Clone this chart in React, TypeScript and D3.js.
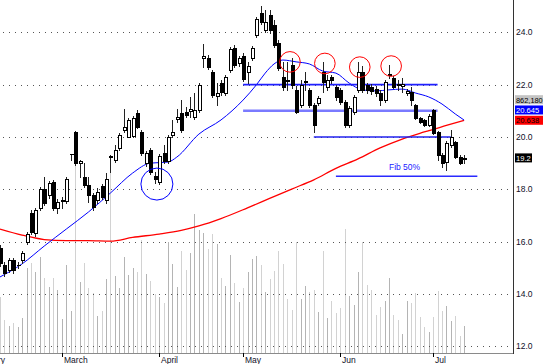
import React from 'react';
import * as d3 from 'd3';

const W = 550;
const H = 364;

// Daily candles [open, high, low, close]
const ohlc: [number, number, number, number][] = [
  [15.76, 15.87, 15.07, 15.19], [15.11, 15.23, 14.69, 14.80], [14.92, 15.38, 14.84, 15.30], [15.30, 15.38, 14.80, 14.92],
  [15.11, 15.23, 15.00, 15.12], [15.30, 15.64, 15.19, 15.57], [15.99, 16.37, 15.91, 16.29], [17.10, 17.21, 16.29, 16.37],
  [16.33, 17.29, 16.22, 17.21], [17.29, 18.09, 17.21, 18.01], [18.01, 18.47, 17.40, 17.48], [17.78, 18.32, 17.67, 18.24],
  [18.28, 18.36, 17.21, 17.29], [17.29, 17.63, 17.10, 17.52], [17.55, 17.71, 17.29, 17.59], [17.55, 18.47, 17.48, 18.39],
  [19.33, 19.35, 19.12, 19.33], [20.19, 20.23, 18.93, 19.00], [19.00, 19.12, 18.47, 19.08], [18.47, 19.00, 18.09, 18.17],
  [18.17, 18.47, 17.52, 17.78], [17.78, 17.86, 17.21, 17.33], [17.59, 18.05, 17.48, 17.90], [18.13, 18.20, 17.63, 17.71],
  [17.59, 18.62, 17.48, 18.39], [19.27, 19.31, 18.66, 19.22], [19.12, 19.69, 19.04, 19.50], [19.58, 20.15, 19.50, 20.08],
  [20.27, 21.07, 20.19, 20.38], [20.00, 20.73, 20.00, 20.65], [20.04, 20.80, 20.00, 20.73], [20.92, 21.03, 20.34, 20.38],
  [20.19, 20.27, 19.31, 19.39], [19.00, 19.46, 18.89, 19.39], [19.50, 19.58, 18.59, 18.66], [18.51, 18.66, 18.24, 18.39],
  [18.28, 19.35, 18.20, 19.27], [19.39, 19.69, 19.00, 19.08], [19.08, 20.08, 19.00, 20.00], [20.08, 20.65, 20.00, 20.19],
  [20.69, 21.07, 20.57, 20.76], [20.92, 21.41, 20.19, 20.27], [20.95, 21.15, 20.76, 20.84], [20.99, 21.53, 20.76, 21.07],
  [20.76, 21.68, 20.69, 21.03], [21.03, 22.06, 20.95, 21.99], [23.02, 23.55, 22.67, 23.09], [23.02, 23.13, 22.60, 22.67],
  [22.48, 22.56, 21.53, 21.60], [21.57, 22.06, 21.22, 21.68], [22.06, 22.18, 21.60, 21.72], [21.68, 22.37, 21.60, 22.29],
  [22.56, 23.44, 22.48, 23.36], [23.40, 23.51, 22.67, 22.75], [22.83, 23.09, 22.71, 23.02], [23.09, 23.21, 22.14, 22.22],
  [22.48, 22.87, 22.06, 22.71], [23.02, 23.48, 22.94, 23.40], [23.90, 24.58, 23.82, 24.51], [24.74, 25.00, 24.32, 24.39],
  [24.09, 24.85, 24.01, 24.39], [24.66, 24.85, 23.97, 24.09], [24.28, 24.47, 23.44, 23.51], [23.59, 23.71, 22.56, 22.64],
  [22.29, 22.87, 21.80, 21.91], [22.18, 22.87, 21.80, 22.14], [22.75, 23.02, 21.87, 21.99], [21.80, 21.95, 20.92, 20.95],
  [21.22, 22.18, 21.15, 21.99], [22.10, 22.48, 21.80, 22.12], [21.80, 21.87, 21.15, 21.22], [21.22, 21.30, 20.19, 20.46],
  [21.30, 21.57, 21.22, 21.49], [22.48, 22.87, 21.72, 22.10], [21.91, 22.37, 21.80, 22.18], [22.29, 22.37, 22.06, 22.18],
  [21.91, 21.99, 21.41, 21.53], [21.80, 21.87, 21.26, 21.34], [21.34, 21.41, 20.38, 20.46], [20.46, 21.18, 20.38, 21.11],
  [20.95, 21.60, 20.88, 21.53], [21.80, 22.87, 21.72, 22.48], [22.48, 22.71, 21.72, 21.80], [21.99, 22.06, 21.68, 21.80],
  [21.91, 22.02, 21.64, 21.76], [21.83, 21.95, 21.57, 21.68], [21.68, 21.80, 21.22, 21.41], [21.41, 22.18, 21.34, 22.10],
  [22.35, 22.75, 22.25, 22.39], [22.25, 22.33, 21.87, 21.91], [22.02, 22.18, 21.80, 22.00], [21.95, 22.25, 21.72, 22.02],
  [21.68, 21.83, 21.60, 21.76], [21.72, 21.91, 21.22, 21.41], [21.22, 21.26, 20.69, 20.73], [20.73, 20.76, 20.53, 20.57],
  [20.65, 20.69, 20.42, 20.46], [20.46, 20.88, 20.42, 20.80], [21.03, 21.07, 20.11, 20.15], [20.19, 20.23, 19.12, 19.31],
  [19.31, 19.39, 18.85, 19.00], [19.04, 19.85, 18.74, 19.77], [19.69, 20.27, 19.62, 20.00], [19.81, 19.85, 19.20, 19.22],
  [19.23, 19.31, 18.97, 19.00], [19.16, 19.31, 19.00, 19.20],
];

// Volume in thousands of shares
const volumeK: number[] = [
  1768, 1040, 862, 937, 812, 1093, 2655, 2812, 2549, 3018, 2362, 2081, 2362, 1977, 1072, 2758,
  1331, 6039, 2237, 2812, 2031, 1874, 1165, 1331, 2321, 5789, 2424, 2031, 3018, 2446, 2655, 2549,
  3539, 2477, 2259, 1843, 1768, 1581, 3477, 2790, 2081, 3205, 2602, 3124, 4352, 3852, 3749, 3258,
  3727, 3415, 2362, 2102, 3080, 2206, 1603, 2049, 2540, 2955, 3030, 2758, 1915, 2321, 2580, 3205,
  2799, 1706, 1353, 3486, 1706, 2093, 1924, 1968, 1281, 3186, 1103, 1634, 1268, 1415, 3892, 1799,
  1509, 2540, 3486, 2134, 1977, 1196, 1456, 1634, 2343, 1196, 1040, 603, 1643, 1581, 1874, 1143,
  831, 675, 1143, 1956, 1331, 1478, 1018, 1165, 550, 862.18,
];

// Short moving average (blue), read at sample bars
const maShortIdx = [0, 5, 10, 15, 20, 25, 30, 34, 38, 40, 45, 50, 55, 58, 60, 62, 64, 67, 70, 73, 76, 79, 82, 85, 88, 91, 94, 97, 100, 103, 105];
const maShortVal = [14.65, 15.15, 15.83, 16.48, 17.13, 17.86, 18.62, 19.0, 19.04, 19.23, 20.11, 20.65, 21.41, 21.99, 22.44, 22.79, 22.94, 22.87, 22.79, 22.52, 22.44, 22.06, 21.8, 21.76, 21.8, 21.83, 21.68, 21.53, 21.26, 20.88, 20.645];

// Long moving average (red)
const maLongIdx = [0, 5, 10, 15, 20, 25, 30, 36, 41, 45, 50, 56, 61, 66, 71, 76, 81, 86, 91, 96, 101, 105];
const maLongVal = [16.48, 16.25, 16.08, 16.04, 16.04, 16.02, 16.16, 16.29, 16.43, 16.6, 16.88, 17.29, 17.65, 18.01, 18.36, 18.8, 19.16, 19.58, 19.92, 20.19, 20.44, 20.638];

const priceTicks = [12, 14, 16, 18, 20, 22, 24];
const monthLabels = ['February', 'March', 'April', 'May', 'Jun', 'Jul'];
const monthStart = [-7, 14, 36, 55, 77, 98];

// Drawn support/resistance levels
const levelPrice = [22, 21, 20, 18.5];
const levelFrom = [55, 55, 71, 76];
const levelTo = [99, 99, 102, 108];
const levelColor = ['#1f1fff', '#7a7aff', '#2222ee', '#2a2aff'];
const levelWidth = [1.6, 2.4, 1.5, 1.5];

const redCircleIdx = [65.6, 73.5, 81.4, 88.5];
const redCirclePrice = [22.87, 22.81, 22.67, 22.71];
const blueCircleIdx = [35.5];
const blueCirclePrice = [18.2];

const fibText = 'Fib 50%';
const fibIdx = 88;
const fibPrice = 18.74;

const FONT = '"Liberation Sans", Arial, sans-serif';

export default function App() {
  const plotRight = 513;
  const plotBottom = 353;
  const x = d3.scaleLinear().domain([0, 116]).range([0, 512.7]);
  const y = d3.scaleLinear().domain([12, 24]).range([346.3, 32.3]);
  const yv = d3.scaleLinear().domain([0, 10000]).range([353.3, 33.2]);

  const px = (i: number) => Math.round(x(i));

  const line = d3
    .line<[number, number]>()
    .x((d) => x(d[0]))
    .y((d) => y(d[1]))
    .curve(d3.curveMonotoneX);

  const shortPath = line(maShortIdx.map((d, k) => [d, maShortVal[k]]) as [number, number][]) || '';
  const longPath = line(maLongIdx.map((d, k) => [d, maLongVal[k]]) as [number, number][]) || '';

  const lastI = ohlc.length - 1;
  const lastClose = ohlc[lastI][3];
  const redY = y(maLongVal[maLongVal.length - 1]);
  const blueY = redY - 10.3;
  const grayY = blueY - 10.3;
  const closeY = y(lastClose);

  const fmtVol = d3.format(',.0f');

  return (
    <svg
      width={W}
      height={H}
      style={{ position: 'fixed', left: 0, top: 0, background: '#fff' }}
      fontFamily={FONT}
    >
      <defs>
        <clipPath id="plot">
          <rect x={0} y={0} width={plotRight} height={plotBottom} />
        </clipPath>
      </defs>
      <rect x={0} y={0} width={W} height={H} fill="#fff" />
      <g clipPath="url(#plot)">
        {/* volume */}
        <g shapeRendering="crispEdges">
          {volumeK.map((v, i) => {
            const c = ohlc[i];
            const up = c[3] >= c[0];
            return (
              <line
                key={i}
                x1={px(i) + 0.5}
                x2={px(i) + 0.5}
                y1={yv(0)}
                y2={yv(v)}
                stroke={up ? '#b4b4b4' : '#d2d2d2'}
                strokeWidth={1}
              />
            );
          })}
        </g>
        {/* grid */}
        <g shapeRendering="crispEdges">
          {priceTicks.map((t) => (
            <line
              key={t}
              x1={3}
              x2={plotRight}
              y1={Math.round(y(t)) + 0.5}
              y2={Math.round(y(t)) + 0.5}
              stroke="#555"
              strokeDasharray="1,5"
            />
          ))}
        </g>
        {/* moving averages */}
        <path d={longPath} fill="none" stroke="#ff0000" strokeWidth={1.3} />
        <path d={shortPath} fill="none" stroke="#0000ff" strokeWidth={1} />
        {/* levels */}
        {levelPrice.map((p, k) => (
          <line
            key={k}
            x1={x(levelFrom[k])}
            x2={x(levelTo[k])}
            y1={y(p)}
            y2={y(p)}
            stroke={levelColor[k]}
            strokeWidth={levelWidth[k]}
          />
        ))}
        {/* candles */}
        <g shapeRendering="crispEdges">
          {ohlc.map(([o, h, l, c], i) => {
            const cx = px(i);
            const top = Math.round(y(Math.max(o, c)));
            const bot = Math.round(y(Math.min(o, c)));
            const up = c >= o;
            return (
              <g key={i}>
                <line x1={cx + 0.5} x2={cx + 0.5} y1={Math.round(y(h))} y2={Math.round(y(l)) + 1} stroke="#222" />
                {bot - top < 1 ? (
                  <line x1={cx - 1} x2={cx + 3} y1={top + 0.5} y2={top + 0.5} stroke="#000" />
                ) : (
                  <rect
                    x={cx - 0.5}
                    y={top + 0.5}
                    width={3}
                    height={bot - top}
                    fill={up ? '#fff' : '#000'}
                    stroke="#000"
                  />
                )}
              </g>
            );
          })}
        </g>
        {/* annotations */}
        {redCircleIdx.map((d, k) => (
          <circle key={k} cx={x(d)} cy={y(redCirclePrice[k])} r={10.3} fill="none" stroke="#ff0000" strokeWidth={1} />
        ))}
        {blueCircleIdx.map((d, k) => (
          <circle key={k} cx={x(d)} cy={y(blueCirclePrice[k])} r={16} fill="none" stroke="#0000ff" strokeWidth={1} />
        ))}
        <text x={x(fibIdx)} y={y(fibPrice)} fontSize={8.5} fill="#2020ff">
          {fibText}
        </text>
      </g>

      {/* bottom axis */}
      <line x1={0} x2={plotRight} y1={plotBottom + 0.5} y2={plotBottom + 0.5} stroke="#8a8a8a" strokeWidth={1} shapeRendering="crispEdges" />
      {monthStart.map((m, k) => (
        <g key={k}>
          <line x1={px(m) + 0.5} x2={px(m) + 0.5} y1={plotBottom} y2={plotBottom + 4} stroke="#000" shapeRendering="crispEdges" />
          <text x={px(m) + 2} y={362.5} fontSize={8.5} fill="#101028">
            {monthLabels[k]}
          </text>
        </g>
      ))}

      {/* right axis */}
      <line x1={plotRight + 0.5} x2={plotRight + 0.5} y1={0} y2={plotBottom + 1} stroke="#333" shapeRendering="crispEdges" />
      {priceTicks.map((t) => (
        <text key={t} x={516} y={y(t) + 3} fontSize={8.5} fill="#101028">
          {t.toFixed(1)}
        </text>
      ))}

      {/* value tags */}
      <rect x={515} y={grayY - 4.5} width={28} height={9} fill="#c4c4c4" />
      <text x={516} y={grayY + 3} fontSize={7.4} fill="#000">
        {fmtVol(volumeK[lastI] * 1000)}
      </text>
      <rect x={515} y={blueY - 4.5} width={28} height={9} fill="#0000ff" />
      <text x={516} y={blueY + 3} fontSize={7.6} fill="#fff">
        {maShortVal[maShortVal.length - 1].toFixed(3)}
      </text>
      <rect x={515} y={redY - 4.5} width={28} height={9} fill="#ff0000" />
      <text x={516} y={redY + 3} fontSize={7.6} fill="#000">
        {maLongVal[maLongVal.length - 1].toFixed(3)}
      </text>
      <rect x={515} y={closeY - 4.5} width={17} height={9} fill="#000" />
      <text x={516} y={closeY + 3} fontSize={7.6} fill="#fff">
        {lastClose.toFixed(1)}
      </text>
    </svg>
  );
}
